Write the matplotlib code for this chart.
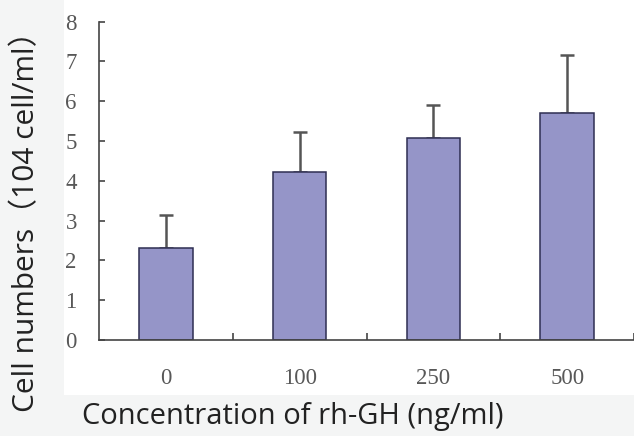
import numpy as np
import matplotlib
matplotlib.use("Agg")
from matplotlib import pyplot as plt
from matplotlib.patches import Rectangle

# data
doses = ['0', '100', '250', '500']
cell_numbers = [2.31, 4.21, 5.07, 5.71]
upper_err = [0.82, 1.01, 0.84, 1.46]

bar_colour = '#9595c8'
edge_colour = '#2e2e52'
tick_font = ['Liberation Serif', 'DejaVu Serif']
label_font = ['Open Sans', 'Noto Sans CJK SC', 'DejaVu Sans']

fig = plt.figure(figsize=(6.34, 4.36), dpi=100)
fig.patch.set_facecolor('#f4f5f5')
# white panel the original plot was pasted on
fig.patches.append(Rectangle((64/634, 1-395/436), 570/634, 395/436,
                             transform=fig.transFigure, facecolor='white',
                             edgecolor='none', zorder=-5))

ax = fig.add_axes([99/634, 1-340/436, 535/634, (340-21.7)/436])
ax.set_facecolor('none')

x = np.arange(len(doses))
ax.bar(x, cell_numbers, width=0.4, color=bar_colour, edgecolor=edge_colour,
       linewidth=1.1, zorder=2)
# only the upper half of the error bar is drawn
ax.errorbar(x, cell_numbers, yerr=[np.zeros(len(x)), upper_err], fmt='none',
            ecolor='#555555', elinewidth=1.8, capsize=5, capthick=1.8, zorder=1)

ax.set_xlim(-0.5, 3.5)
ax.set_ylim(0, 8)
ax.set_yticks(range(0, 9))
ax.set_xticks(x)
ax.set_xticklabels(doses)
ax.set_xticks([0.5, 1.5, 2.5, 3.5], minor=True)

for s in ['top', 'right']:
    ax.spines[s].set_visible(False)
for s in ['left', 'bottom']:
    ax.spines[s].set_color('#444444')
    ax.spines[s].set_linewidth(1.2)

ax.tick_params(axis='y', direction='in', length=4, width=1.2, color='#444444',
               labelsize=16.5, labelcolor='#585858', pad=16)
ax.tick_params(axis='x', which='major', length=0, labelsize=16.5,
               labelcolor='#585858', pad=20)
ax.tick_params(axis='x', which='minor', direction='in', length=5, width=1.2,
               color='#444444')
for lab in ax.get_xticklabels() + ax.get_yticklabels():
    lab.set_family(tick_font)

fig.text(27/634, 1-214/436, 'Cell numbers（104 cell/ml）', rotation=90,
         ha='center', va='center', fontsize=21.5, color='#222222',
         family=label_font)
fig.text(293/634, 1-416/436, 'Concentration of rh-GH (ng/ml)',
         ha='center', va='center', fontsize=21, color='#222222',
         family=label_font)

plt.savefig('out.png', dpi=100, facecolor=fig.get_facecolor())
